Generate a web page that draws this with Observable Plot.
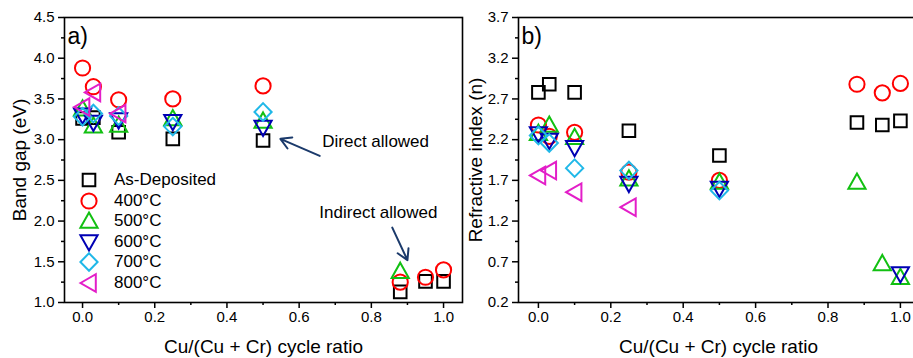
<!DOCTYPE html>
<html><head><meta charset="utf-8">
<script src="https://cdn.jsdelivr.net/npm/d3@7"></script>
<script src="https://cdn.jsdelivr.net/npm/@observablehq/plot@0.6"></script>
<style>
html,body{margin:0;padding:0;background:#fff;}
#wrap{position:relative;width:913px;height:358px;overflow:hidden;font-family:"Liberation Sans",Arial,sans-serif;}
#pa,#pb{position:absolute;top:0;}
#pa{left:0;width:470px;}
#pb{left:462px;width:464px;}
#pa svg,#pb svg{max-width:none !important;}
#legend{position:absolute;left:0;top:0;}
.lrow{position:absolute;display:flex;align-items:center;font-size:17px;color:#000;white-space:nowrap;}
</style></head>
<body>
<div id="wrap"><div id="pa"></div><div id="pb"></div><div id="legend"></div></div>
<script>
// ---------- data ----------
const seriesNames = ["As-Deposited", "400°C", "500°C", "600°C", "700°C", "800°C"];
const seriesColors = ["#000000", "#ff0000", "#12c012", "#0000b4", "#20b8e8", "#e31ec8"];

// Panel a: band gap (eV) vs Cu/(Cu+Cr) cycle ratio  [ratio, value]
const gapAsDep = [[0, 3.26], [0.03, 3.27], [0.1, 3.09], [0.25, 3.01], [0.5, 2.99], [0.88, 1.13], [0.95, 1.26], [1.0, 1.26]];
const gap400 = [[0, 3.88], [0.03, 3.65], [0.1, 3.49], [0.25, 3.50], [0.5, 3.66], [0.88, 1.25], [0.95, 1.31], [1.0, 1.40]];
const gap500 = [[0, 3.38], [0.03, 3.17], [0.1, 3.18], [0.25, 3.26], [0.5, 3.23], [0.88, 1.385]];
const gap600 = [[0, 3.30], [0.03, 3.21], [0.1, 3.24], [0.25, 3.22], [0.5, 3.15]];
const gap700 = [[0, 3.28], [0.03, 3.32], [0.1, 3.29], [0.25, 3.16], [0.5, 3.34]];
const gap800 = [[0, 3.40], [0.03, 3.58], [0.1, 3.32]];

// Panel b: refractive index (n)
const nAsDep = [[0, 2.78], [0.03, 2.88], [0.1, 2.78], [0.25, 2.31], [0.5, 2.005], [0.88, 2.41], [0.95, 2.38], [1.0, 2.43]];
const n400 = [[0, 2.38], [0.03, 2.24], [0.1, 2.29], [0.25, 1.80], [0.5, 1.70], [0.88, 2.88], [0.95, 2.775], [1.0, 2.89]];
const n500 = [[0, 2.28], [0.03, 2.38], [0.1, 2.23], [0.25, 1.72], [0.5, 1.68], [0.88, 1.68], [0.95, 0.68], [1.0, 0.51]];
const n600 = [[0, 2.27], [0.03, 2.19], [0.1, 2.10], [0.25, 1.66], [0.5, 1.60], [1.0, 0.55]];
const n700 = [[0, 2.25], [0.03, 2.16], [0.1, 1.85], [0.25, 1.82], [0.5, 1.575]];
const n800 = [[0, 1.76], [0.03, 1.82], [0.1, 1.555], [0.25, 1.37]];

// ticks
const xTicks = [0, 0.2, 0.4, 0.6, 0.8, 1.0];
const xMinor = [0.1, 0.3, 0.5, 0.7, 0.9];
const gapTicks = [1.0, 1.5, 2.0, 2.5, 3.0, 3.5, 4.0, 4.5];
const gapMinor = [1.25, 1.75, 2.25, 2.75, 3.25, 3.75, 4.25];
const nTicks = [0.2, 0.7, 1.2, 1.7, 2.2, 2.7, 3.2, 3.7];
const nMinor = [0.45, 0.95, 1.45, 1.95, 2.45, 2.95, 3.45];

// annotations (data units)
const directArrow = [{x1: 0.657, y1: 2.80, x2: 0.548, y2: 3.01}];
const directLabel = [{x: 0.664, y: 2.98, text: "Direct allowed"}];
const indirectArrow = [{x1: 0.858, y1: 1.92, x2: 0.900, y2: 1.52}];
const indirectLabel = [{x: 0.656, y: 2.10, text: "Indirect allowed"}];

// ---------- symbols ----------
const symSquare = {draw(c) { const h = 6.3; c.moveTo(-h, -h); c.lineTo(h, -h); c.lineTo(h, h); c.lineTo(-h, h); c.closePath(); }};
const symCircle = {draw(c) { const r = 7.6; c.moveTo(r, 0); c.arc(0, 0, r, 0, 2 * Math.PI); c.closePath(); }};
const symUp = {draw(c) { c.moveTo(0, -8.5); c.lineTo(8.6, 6.8); c.lineTo(-8.6, 6.8); c.closePath(); }};
const symDown = {draw(c) { c.moveTo(0, 8.5); c.lineTo(8.6, -6.8); c.lineTo(-8.6, -6.8); c.closePath(); }};
const symDiamond = {draw(c) { c.moveTo(0, -8.8); c.lineTo(8.6, 0); c.lineTo(0, 8.8); c.lineTo(-8.6, 0); c.closePath(); }};
const symLeft = {draw(c) { c.moveTo(-8.5, 0); c.lineTo(6.8, -8.8); c.lineTo(6.8, 8.8); c.closePath(); }};
const seriesSymbols = [symSquare, symCircle, symUp, symDown, symDiamond, symLeft];

const font = "'Liberation Sans', Arial, sans-serif";

function dots(list) {
  return list.map((d, i) => Plot.dot(d, {
    x: p => p[0], y: p => p[1],
    symbol: seriesSymbols[i], stroke: seriesColors[i], fill: "none",
    strokeWidth: 2, r: 5
  }));
}

function axes(ticksY, minorY, fmtY) {
  return [
    Plot.axisX({ticks: xTicks, tickFormat: d => d.toFixed(1), tickSize: 6, tickPadding: 3, fontSize: 15, strokeWidth: 1.5, label: null}),
    Plot.axisX({ticks: xMinor, tickFormat: () => "", tickSize: 3, strokeWidth: 1.5, label: null}),
    Plot.axisY({ticks: ticksY, tickFormat: fmtY, tickSize: 6, tickPadding: 4, fontSize: 15, strokeWidth: 1.5, label: null}),
    Plot.axisY({ticks: minorY, tickFormat: () => "", tickSize: 3, strokeWidth: 1.5, label: null}),
    Plot.frame({stroke: "#000", strokeWidth: 1.6})
  ];
}

const styleObj = {fontFamily: font, background: "transparent", overflow: "visible", color: "#000", maxWidth: "none"};

// ---------- panel a ----------
const pa = Plot.plot({
  width: 470, height: 358,
  marginLeft: 64, marginRight: 8, marginTop: 17, marginBottom: 56,
  style: styleObj,
  x: {domain: [-0.05, 1.0525]},
  y: {domain: [1, 4.5]},
  marks: [
    ...axes(gapTicks, gapMinor, d => d.toFixed(1)),
    ...dots([gapAsDep, gap400, gap500, gap600, gap700, gap800]),
    Plot.arrow(directArrow, {x1: "x1", y1: "y1", x2: "x2", y2: "y2", stroke: "#1b3a6b", strokeWidth: 2, headLength: 9}),
    Plot.arrow(indirectArrow, {x1: "x1", y1: "y1", x2: "x2", y2: "y2", stroke: "#1b3a6b", strokeWidth: 2, headLength: 9}),
    Plot.text(directLabel, {x: "x", y: "y", text: "text", textAnchor: "start", fontSize: 17, fill: "#000"}),
    Plot.text(indirectLabel, {x: "x", y: "y", text: "text", textAnchor: "start", fontSize: 17, fill: "#000"}),
    Plot.text(["a)"], {frameAnchor: "top-left", dx: 3, dy: 19, lineAnchor: "middle", textAnchor: "start", fontSize: 23, fill: "#000"}),
    Plot.text(["Band gap (eV)"], {frameAnchor: "left", dx: -45, rotate: -90, textAnchor: "middle", lineAnchor: "middle", fontSize: 19, fill: "#000"}),
    Plot.text(["Cu/(Cu + Cr) cycle ratio"], {frameAnchor: "bottom", dy: 44, lineAnchor: "middle", fontSize: 19, fill: "#000"})
  ]
});
document.getElementById("pa").appendChild(pa);

// ---------- panel b ----------
const pb = Plot.plot({
  width: 464, height: 358,
  marginLeft: 56, marginRight: 8, marginTop: 17, marginBottom: 56,
  style: styleObj,
  x: {domain: [-0.055, 1.05]},
  y: {domain: [0.2, 3.7]},
  marks: [
    ...axes(nTicks, nMinor, d => d.toFixed(1)),
    ...dots([nAsDep, n400, n500, n600, n700, n800]),
    Plot.text(["b)"], {frameAnchor: "top-left", dx: 3, dy: 19, lineAnchor: "middle", textAnchor: "start", fontSize: 23, fill: "#000"}),
    Plot.text(["Refractive index (n)"], {frameAnchor: "left", dx: -43, rotate: -90, textAnchor: "middle", lineAnchor: "middle", fontSize: 19, fill: "#000"}),
    Plot.text(["Cu/(Cu + Cr) cycle ratio"], {frameAnchor: "bottom", dy: 44, lineAnchor: "middle", fontSize: 19, fill: "#000"})
  ]
});
document.getElementById("pb").appendChild(pb);

// ---------- legend (panel a) ----------
const legend = document.getElementById("legend");
seriesNames.forEach((name, i) => {
  const row = document.createElement("div");
  row.className = "lrow";
  row.style.left = "78px";
  row.style.top = (170 + i * 20.6) + "px";
  row.style.height = "20px";
  const p = d3.path();
  seriesSymbols[i].draw(p);
  row.innerHTML = `<svg width="22" height="20" viewBox="-11 -10 22 20" style="overflow:visible;margin-right:14px"><path d="${p.toString()}" fill="none" stroke="${seriesColors[i]}" stroke-width="2"/></svg><span style="font-family:${font.replace(/'/g, "")}">${name}</span>`;
  legend.appendChild(row);
});
</script>
</body></html>
